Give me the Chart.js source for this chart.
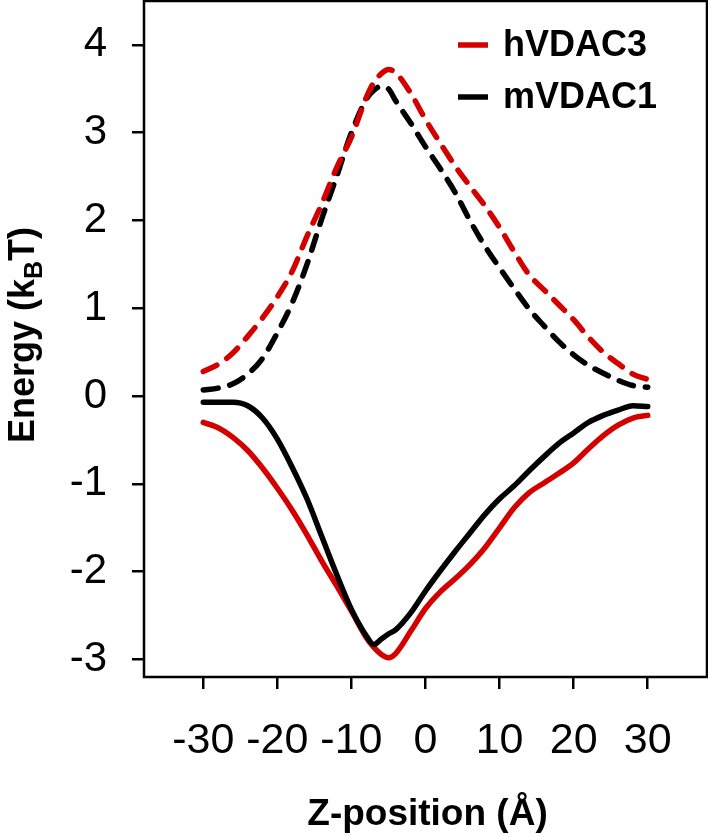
<!DOCTYPE html>
<html>
<head>
<meta charset="utf-8">
<script src="https://cdn.jsdelivr.net/npm/chart.js@4.4.1/dist/chart.umd.min.js"></script>
<style>
  body { margin: 0; background: #fff; }
  canvas { display: block; }
</style>
</head>
<body>
<canvas id="energyChart" width="708" height="837"></canvas>
<script>
// Z-position (Å)
const zPos = [-30, -28, -26, -24, -22, -20, -18, -16, -14, -12, -10, -8, -7, -6, -5, -4, -2,
              0, 2, 4, 6, 8, 10, 12, 14, 16, 18, 20, 22, 24, 26, 28, 30];

// upper (dashed) profiles
const hVDAC3Up = [0.28, 0.36, 0.49, 0.68, 0.89, 1.13, 1.42, 1.82, 2.19, 2.60, 2.95, 3.40, 3.57, 3.67, 3.72, 3.68, 3.45,
                  3.15, 2.88, 2.62, 2.39, 2.17, 1.92, 1.64, 1.38, 1.21, 1.04, 0.87, 0.67, 0.50, 0.37, 0.25, 0.19];
const mVDAC1Up = [0.07, 0.09, 0.14, 0.25, 0.43, 0.72, 1.06, 1.50, 2.02, 2.50, 3.00, 3.38, 3.48, 3.53, 3.50, 3.36, 3.11,
                  2.84, 2.59, 2.32, 2.00, 1.71, 1.46, 1.22, 0.99, 0.80, 0.62, 0.47, 0.35, 0.26, 0.18, 0.12, 0.10];

// lower (solid) profiles
const hVDAC3Down = [-0.30, -0.36, -0.47, -0.62, -0.82, -1.05, -1.30, -1.58, -1.88, -2.16, -2.45, -2.75, -2.86, -2.94, -2.98, -2.93, -2.68,
                    -2.42, -2.23, -2.08, -1.92, -1.73, -1.50, -1.27, -1.10, -0.99, -0.88, -0.76, -0.60, -0.45, -0.33, -0.25, -0.22];
const mVDAC1Down = [-0.07, -0.07, -0.07, -0.11, -0.25, -0.49, -0.81, -1.17, -1.60, -2.03, -2.43, -2.73, -2.83, -2.77, -2.71, -2.66, -2.47,
                    -2.22, -1.99, -1.77, -1.56, -1.35, -1.17, -1.02, -0.85, -0.69, -0.54, -0.42, -0.30, -0.22, -0.16, -0.11, -0.12];

const xTicks = [-30, -20, -10, 0, 10, 20, 30];
const yTicks = [-3, -2, -1, 0, 1, 2, 3, 4];

const seriesNames = ['hVDAC3', 'mVDAC1'];
const RED = '#d40000';
const BLACK = '#000000';

const pts = (ys) => zPos.map((z, i) => ({ x: z, y: ys[i] }));

function line(label, ys, color, dashed) {
    return {
        label: label,
        data: pts(ys),
        borderColor: color,
        borderWidth: 5.5,
        borderDash: dashed ? [15, 12] : [],
        borderCapStyle: 'round',
        borderJoinStyle: 'round',
        pointRadius: 0,
        cubicInterpolationMode: 'monotone',
        fill: false
    };
}

// draws the frame, legend and axis titles (the y title needs a subscript)
const extras = {
    id: 'extras',
    afterDraw(chart) {
        const ctx = chart.ctx;
        const a = chart.chartArea;
        ctx.save();
        ctx.strokeStyle = '#000';
        ctx.lineWidth = 2.5;
        ctx.strokeRect(a.left, a.top, a.right - a.left, a.bottom - a.top);

        // legend
        const cols = [RED, BLACK];
        ctx.font = 'bold 36px "Liberation Sans", Arial, sans-serif';
        ctx.textBaseline = 'middle';
        ctx.textAlign = 'left';
        seriesNames.forEach((name, i) => {
            const y = 45 + i * 52;
            ctx.strokeStyle = cols[i];
            ctx.lineWidth = 5.5;
            ctx.beginPath();
            ctx.moveTo(458, y);
            ctx.lineTo(488, y);
            ctx.stroke();
            ctx.fillStyle = '#000';
            ctx.fillText(name, 503, y + 1);
        });

        // x title
        ctx.font = 'bold 37px "Liberation Sans", Arial, sans-serif';
        ctx.textAlign = 'center';
        ctx.textBaseline = 'alphabetic';
        ctx.fillText('Z-position (Å)', (a.left + a.right) / 2 + 2, 825);

        // y title: Energy (k_B T)
        ctx.translate(34, (a.top + a.bottom) / 2 - 4);
        ctx.rotate(-Math.PI / 2);
        const big = 'bold 36px "Liberation Sans", Arial, sans-serif';
        const small = 'bold 25px "Liberation Sans", Arial, sans-serif';
        ctx.font = big;
        const p1 = 'Energy (k', p3 = 'T)';
        const w1 = ctx.measureText(p1).width, w3 = ctx.measureText(p3).width;
        ctx.font = small;
        const w2 = ctx.measureText('B').width;
        let x = -(w1 + w2 + w3) / 2;
        ctx.textAlign = 'left';
        ctx.font = big;
        ctx.fillText(p1, x, 0);
        x += w1;
        ctx.font = small;
        ctx.fillText('B', x, 8);
        x += w2;
        ctx.font = big;
        ctx.fillText(p3, x, 0);
        ctx.restore();
    }
};

const noPad = (s) => { s.paddingTop = 0; s.paddingBottom = 0; s.paddingLeft = 0; s.paddingRight = 0; };

const ctxEnergy = document.getElementById('energyChart');
const energyChart = new Chart(ctxEnergy, {
    type: 'line',
    data: {
        datasets: [
            line(seriesNames[0], hVDAC3Up, RED, true),
            line(seriesNames[1], mVDAC1Down, BLACK, false),
            line(seriesNames[1], mVDAC1Up, BLACK, true),
            line(seriesNames[0], hVDAC3Down, RED, false)
        ]
    },
    options: {
        responsive: false,
        animation: false,
        devicePixelRatio: 1,
        layout: {
            padding: { top: 1, right: 1, left: 0, bottom: 0 }
        },
        plugins: {
            legend: { display: false },
            tooltip: { enabled: false }
        },
        scales: {
            x: {
                type: 'linear',
                min: -38,
                max: 38,
                afterBuildTicks: (s) => { s.ticks = xTicks.map(v => ({ value: v })); },
                afterFit: (s) => { s.height = 160; noPad(s); },
                border: { display: false },
                grid: { drawOnChartArea: false, drawTicks: true, tickLength: 12, color: '#000', lineWidth: 2.5 },
                ticks: {
                    color: '#000',
                    padding: 26,
                    maxRotation: 0,
                    autoSkip: false,
                    font: { family: '"Liberation Sans", Arial, sans-serif', size: 43 }
                }
            },
            y: {
                type: 'linear',
                min: -3.2,
                max: 4.5,
                afterBuildTicks: (s) => { s.ticks = yTicks.map(v => ({ value: v })); },
                afterFit: (s) => { s.width = 144; noPad(s); },
                border: { display: false },
                grid: { drawOnChartArea: false, drawTicks: true, tickLength: 12, color: '#000', lineWidth: 2.5 },
                ticks: {
                    color: '#000',
                    padding: 25,
                    autoSkip: false,
                    font: { family: '"Liberation Sans", Arial, sans-serif', size: 42 }
                }
            }
        }
    },
    plugins: [extras]
});
</script>
</body>
</html>
